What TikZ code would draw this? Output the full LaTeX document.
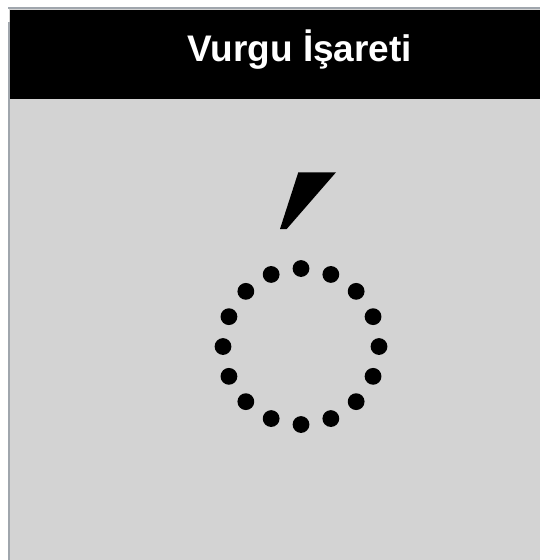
\documentclass[tikz,border=0pt]{standalone}
\usepackage{fontspec}
\setmainfont{Liberation Sans}
\definecolor{panelgray}{HTML}{D3D3D3}
\definecolor{edgegray}{HTML}{A0A6AD}
\tikzset{dotmark/.style={fill=black}}
\begin{document}
\begin{tikzpicture}[x=1pt,y=-1pt]
\useasboundingbox (0,0) rectangle (540,560);
\fill[panelgray] (9,9) rectangle (540,560);
\fill[black] (9.5,9.5) rectangle (540,98.5);
\draw[edgegray, line width=2pt] (8,8) -- (540,8);
\draw[edgegray, line width=2pt] (9,22) -- (9,560);
\node[text=white, anchor=base, inner sep=0pt, font=\fontsize{37}{44}\selectfont\bfseries] (title) at (299.7,61.5) {Vurgu İşareti};

\fill (298.3,172.3) -- (336,172.3) -- (286.7,229) -- (280,229) -- cycle;
\foreach \k in {0,...,15}
  \fill[dotmark, shift={(301,346.5)}] (\k*22.5:78) circle (8.4);
\end{tikzpicture}
\end{document}
